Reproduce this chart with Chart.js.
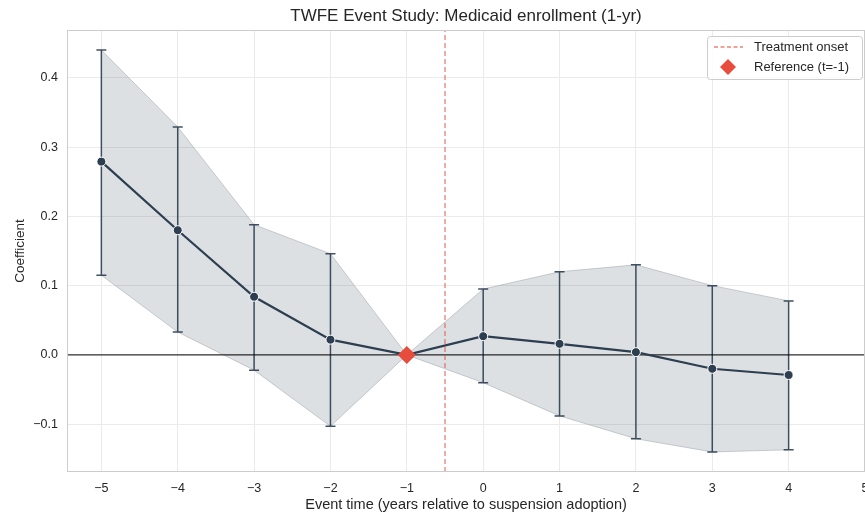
<!DOCTYPE html>
<html lang="en">
<head>
<meta charset="UTF-8">
<title>TWFE Event Study</title>
<script src="https://cdn.jsdelivr.net/npm/chart.js"></script>
<style>
  html, body { margin: 0; padding: 0; background: #fff; }
  #wrap { width: 865px; height: 515px; }
</style>
</head>
<body>
<div id="wrap"><canvas id="myChart" width="865" height="515"></canvas></div>
<script>
// event time, coefficient and 95% CI
var eventTime = [-5, -4, -3, -2, -1, 0, 1, 2, 3, 4];
var coef      = [0.279, 0.180, 0.084, 0.022, 0, 0.027, 0.016, 0.004, -0.020, -0.029];
var ciLow     = [0.115, 0.033, -0.022, -0.103, 0, -0.040, -0.088, -0.121, -0.140, -0.137];
var ciHigh    = [0.440, 0.329, 0.188, 0.146, 0, 0.095, 0.120, 0.130, 0.100, 0.078];
var refTime = -1;
var onsetTime = -0.5;
var xTicks = [-5, -4, -3, -2, -1, 0, 1, 2, 3, 4, 5];
var yTicks = [-0.1, 0.0, 0.1, 0.2, 0.3, 0.4];

var X_MIN = -5.45, X_MAX = 5.0, Y_MIN = -0.169, Y_MAX = 0.469;
var dark = '#2c3e50';
var red = '#e74c3c';
var FONT = '"Liberation Sans", Arial, sans-serif';

function pts(ys) {
  return eventTime.map(function (t, i) { return { x: t, y: ys[i] }; });
}
function minusFmt(v, d) {
  var s = Math.abs(v).toFixed(d);
  return v < -1e-9 ? '\u2212' + s : s;
}

// error bars (skip the reference period)
var errorBars = {
  id: 'errorBars',
  afterDatasetDraw: function (chart, args) {
    if (args.index !== 1) return;
    var c = chart.ctx, xs = chart.scales.x, ys = chart.scales.y;
    c.save();
    c.strokeStyle = 'rgba(44,62,80,0.9)';
    c.lineWidth = 1.5;
    for (var i = 0; i < eventTime.length; i++) {
      if (eventTime[i] === refTime) continue;
      var px = xs.getPixelForValue(eventTime[i]);
      var lo = ys.getPixelForValue(ciLow[i]);
      var hi = ys.getPixelForValue(ciHigh[i]);
      c.beginPath();
      c.moveTo(px, lo); c.lineTo(px, hi);
      c.moveTo(px - 5, lo); c.lineTo(px + 5, lo);
      c.moveTo(px - 5, hi); c.lineTo(px + 5, hi);
      c.stroke();
    }
    c.restore();
  }
};

var frameAndLegend = {
  id: 'frameAndLegend',
  afterDraw: function (chart) {
    var c = chart.ctx, a = chart.chartArea;
    c.save();
    c.strokeStyle = '#cccccc';
    c.lineWidth = 1;
    c.strokeRect(a.left + 0.5, a.top + 0.5, a.right - a.left - 1, a.bottom - a.top - 1);

    // legend box
    var bx = 707, by = 36, bw = 155, bh = 43;
    c.fillStyle = 'rgba(255,255,255,0.85)';
    c.strokeStyle = '#cccccc';
    c.beginPath();
    c.roundRect(bx + 0.5, by + 0.5, bw, bh, 3);
    c.fill(); c.stroke();

    c.strokeStyle = 'rgba(231,76,60,0.7)';
    c.lineWidth = 1.3;
    c.setLineDash([4, 2.5]);
    c.beginPath();
    c.moveTo(bx + 7, by + 11); c.lineTo(bx + 36, by + 11);
    c.stroke();
    c.setLineDash([]);

    c.fillStyle = red;
    var dx = bx + 21, dy = by + 31, r = 8;
    c.beginPath();
    c.moveTo(dx, dy - r); c.lineTo(dx + r, dy); c.lineTo(dx, dy + r); c.lineTo(dx - r, dy);
    c.closePath(); c.fill();

    c.fillStyle = '#262626';
    c.font = '13px ' + FONT;
    c.textBaseline = 'middle';
    c.fillText('Treatment onset', bx + 47, by + 11);
    c.fillText('Reference (t=-1)', bx + 47, by + 31);
    c.restore();
  }
};

var ctx = document.getElementById('myChart').getContext('2d');
var myChart = new Chart(ctx, {
  type: 'line',
  data: {
    datasets: [
      {
        label: 'CI upper',
        data: pts(ciHigh),
        borderColor: 'rgba(160,168,176,0.55)',
        borderWidth: 1,
        backgroundColor: 'rgba(44,62,80,0.16)',
        pointRadius: 0,
        fill: '+1',
        order: 10
      },
      {
        label: 'CI lower',
        data: pts(ciLow),
        borderColor: 'rgba(160,168,176,0.55)',
        borderWidth: 1,
        pointRadius: 0,
        fill: false,
        order: 9
      },
      {
        label: 'zero',
        data: [{ x: X_MIN, y: 0 }, { x: X_MAX, y: 0 }],
        borderColor: '#000000',
        borderWidth: 1,
        pointRadius: 0,
        order: 8
      },
      {
        label: 'Treatment onset',
        data: [{ x: onsetTime, y: Y_MIN }, { x: onsetTime, y: Y_MAX }],
        borderColor: 'rgba(231,76,60,0.7)',
        borderWidth: 1.3,
        borderDash: [5, 3],
        pointRadius: 0,
        order: 7
      },
      {
        label: 'Coefficient',
        data: pts(coef),
        borderColor: dark,
        borderWidth: 2.2,
        pointRadius: 4.5,
        pointBackgroundColor: dark,
        pointBorderColor: '#ffffff',
        pointBorderWidth: 1,
        order: 2
      },
      {
        label: 'Reference (t=-1)',
        data: [{ x: refTime, y: 0 }],
        showLine: false,
        pointStyle: 'rectRot',
        pointRadius: 9,
        pointBackgroundColor: red,
        pointBorderColor: red,
        pointBorderWidth: 0,
        order: 1
      }
    ]
  },
  options: {
    responsive: false,
    animation: false,
    layout: { padding: 0, autoPadding: false },
    elements: { line: { tension: 0 } },
    plugins: {
      legend: { display: false },
      tooltip: { enabled: false },
      title: {
        display: true,
        fullSize: false,
        text: 'TWFE Event Study: Medicaid enrollment (1-yr)',
        color: '#262626',
        font: { family: FONT, size: 17, weight: 'normal' },
        padding: { top: 6, bottom: 3.6 }
      },
      filler: { propagate: false }
    },
    scales: {
      x: {
        type: 'linear',
        min: X_MIN,
        max: X_MAX,
        afterBuildTicks: function (s) { s.ticks = xTicks.map(function (v) { return { value: v }; }); },
        afterFit: function (s) { s.height = 43; s.paddingRight = 0; s.paddingLeft = 0; },
        grid: { color: '#ebebeb', drawTicks: false },
        border: { display: false },
        ticks: {
          padding: 9,
          color: '#262626',
          maxRotation: 0,
          font: { family: FONT, size: 12.5 },
          callback: function (v) { return minusFmt(v, 0); }
        },
        title: {
          display: true,
          text: 'Event time (years relative to suspension adoption)',
          color: '#262626',
          font: { family: FONT, size: 14.5 },
          padding: { top: 0, bottom: 1.3 }
        }
      },
      y: {
        type: 'linear',
        min: Y_MIN,
        max: Y_MAX,
        afterBuildTicks: function (s) { s.ticks = yTicks.map(function (v) { return { value: v }; }); },
        afterFit: function (s) { s.width = 67; s.paddingTop = 0; s.paddingBottom = 0; },
        grid: { color: '#ebebeb', drawTicks: false },
        border: { display: false },
        ticks: {
          padding: 9,
          color: '#262626',
          font: { family: FONT, size: 12.5 },
          callback: function (v) { return minusFmt(v, 1); }
        },
        title: {
          display: true,
          text: 'Coefficient',
          color: '#262626',
          font: { family: FONT, size: 13.5 },
          padding: { top: 12, bottom: 0 }
        }
      }
    }
  },
  plugins: [errorBars, frameAndLegend]
});
</script>
</body>
</html>
